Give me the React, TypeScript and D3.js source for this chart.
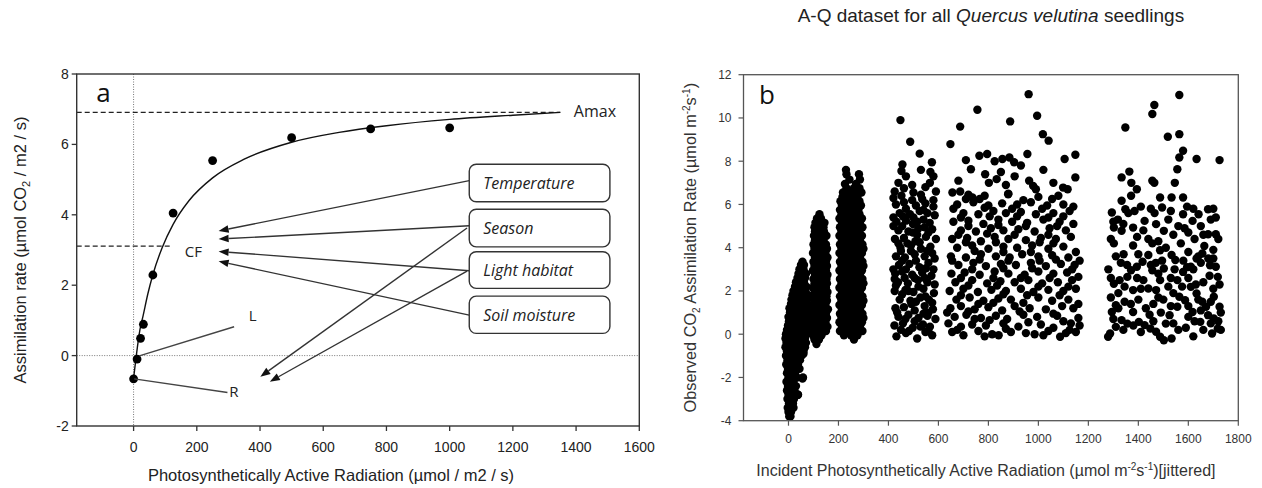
import React from 'react';
import * as d3 from 'd3';

// ---------- Panel a data ----------
const parA = [0, 11, 22, 31, 61, 125, 250, 500, 750, 1000];
const assimA = [-0.66, -0.1, 0.49, 0.89, 2.29, 4.05, 5.54, 6.19, 6.44, 6.47];
const fitPAR = [0, 10, 20, 30, 45, 60, 90, 125, 175, 250, 350, 500, 650, 800, 1000, 1200, 1350];
const fitA = [-0.65, 0.1, 0.73, 1.13, 1.75, 2.27, 3.06, 3.73, 4.4, 5.05, 5.58, 6.06, 6.34, 6.53, 6.71, 6.83, 6.91];
const xTicksA = [0, 200, 400, 600, 800, 1000, 1200, 1400, 1600];
const yTicksA = [-2, 0, 2, 4, 6, 8];
const AMAX = 6.91;
const AMAX_END = 1350;
const CF = 3.11;
const CF_END = 122;
const factors = ['Temperature', 'Season', 'Light habitat', 'Soil moisture'];

// annotation geometry (data units of panel a)
const boxPAR = [1062, 1507];
const boxA = [[5.435, 4.37], [4.156, 3.09], [2.95, 1.91], [1.69, 0.63]];
const lineStartA = [4.97, 3.69, 2.41, 1.15];
const tipPAR = 269;
const tipA = [3.54, 3.31, 2.96, 2.68];
const crossArrows = [
  [1055, 3.625, 401, -0.6],
  [1055, 2.4, 431, -0.74],
];

// ---------- Panel b data ----------
const xTicksB = [0, 200, 400, 600, 800, 1000, 1200, 1400, 1600, 1800];
const yTicksB = [-4, -2, 0, 2, 4, 6, 8, 10, 12];

// dense columns as rows: [assimilation, [PAR values]]
const colARows: [number, number[]][] = [
  [-3.8, [3, 8]], [-3.6, [0, 10]], [-3.4, [-3, 12, 20]], [-3.2, [2, 18]],
  [-3.0, [-4, 10, 22]], [-2.8, [0, 16, 38]], [-2.6, [-6, 8, 24]], [-2.4, [-2, 14, 30]],
  [-2.2, [-8, 6, 20]], [-2.0, [0, 16, 34, 58]], [-1.8, [-6, 10, 26]], [-1.6, [-2, 14, 30, 44]],
  [-1.4, [-9, 6, 22, 38]], [-1.2, [-4, 12, 28, 46]], [-1.0, [-10, 4, 20, 36, 52]],
  [-0.8, [-6, 10, 26, 42, 60]], [-0.6, [-12, 2, 18, 34, 50, 66]], [-0.4, [-8, 8, 24, 40, 56, 70]],
  [-0.2, [-12, 4, 20, 36, 52, 66]], [0.0, [-10, 6, 22, 38, 54, 72]], [0.2, [-6, 10, 26, 42, 58, 76]],
  [0.4, [-2, 14, 30, 46, 62, 78]], [0.6, [2, 18, 34, 50, 66, 82]], [0.8, [0, 16, 32, 48, 64, 84]],
  [1.0, [6, 22, 38, 54, 70, 84]], [1.2, [4, 20, 36, 52, 68, 82]], [1.4, [10, 26, 42, 58, 74]],
  [1.6, [12, 28, 44, 60, 76]], [1.8, [16, 32, 48, 64, 80]], [2.0, [20, 36, 52, 68]],
  [2.2, [26, 42, 58, 72]], [2.4, [30, 46, 62]], [2.6, [36, 52, 66]], [2.8, [40, 56, 70]],
  [3.0, [44, 60]], [3.2, [50, 62]], [3.35, [56]],
];
const colAExtra = [[56, -2.05], [38, -2.8], [60, -0.9]];

const colBRows: [number, number[]][] = [
  [-0.45, [112]], [-0.25, [104, 122]], [-0.05, [98, 114, 132]],
  [0.15, [100, 116, 134, 150]], [0.35, [106, 122, 140, 156]], [0.55, [98, 114, 130, 148]],
  [0.75, [104, 120, 138, 154]], [0.95, [100, 118, 134, 150]], [1.15, [106, 122, 140, 158]],
  [1.35, [98, 116, 132, 148]], [1.55, [104, 120, 136, 154]], [1.75, [100, 118, 134, 152]],
  [1.95, [106, 124, 140, 156]], [2.15, [98, 114, 132, 150]], [2.35, [104, 120, 138, 154]],
  [2.55, [100, 116, 134, 152]], [2.75, [106, 122, 140, 156]], [2.95, [98, 116, 132, 150]],
  [3.15, [104, 120, 138, 154]], [3.35, [100, 118, 134, 150]], [3.55, [106, 122, 140, 156]],
  [3.75, [98, 114, 132, 148]], [3.95, [104, 120, 136, 154]], [4.15, [100, 118, 134, 150]],
  [4.35, [106, 122, 140]], [4.55, [102, 118, 136, 152]], [4.75, [106, 124, 142]],
  [4.95, [104, 122, 140]], [5.15, [108, 126, 144]], [5.35, [114, 130]], [5.55, [124]],
];

const colCRows: [number, number[]][] = [
  [-0.25, [262]], [-0.05, [222, 250, 276]],
  [0.15, [206, 224, 242, 260, 278, 296]], [0.35, [214, 232, 250, 268, 286]],
  [0.55, [204, 222, 240, 258, 276, 294]], [0.75, [212, 230, 248, 266, 284, 300]],
  [0.95, [206, 224, 242, 260, 278, 296]], [1.15, [214, 232, 250, 268, 286]],
  [1.35, [204, 222, 240, 258, 276, 294]], [1.55, [212, 230, 248, 266, 284, 300]],
  [1.75, [206, 224, 242, 260, 278, 296]], [1.95, [214, 232, 250, 268, 286]],
  [2.15, [204, 222, 240, 258, 276, 294]], [2.35, [212, 230, 248, 266, 284, 300]],
  [2.55, [206, 224, 242, 260, 278, 296]], [2.75, [214, 232, 250, 268, 286]],
  [2.95, [204, 222, 240, 258, 276, 294]], [3.15, [212, 230, 248, 266, 284, 300]],
  [3.35, [206, 224, 242, 260, 278, 296]], [3.55, [214, 232, 250, 268, 286]],
  [3.75, [204, 222, 240, 258, 276, 294]], [3.95, [212, 230, 248, 266, 284, 300]],
  [4.15, [206, 224, 242, 260, 278, 296]], [4.35, [214, 232, 250, 268, 286]],
  [4.55, [204, 222, 240, 258, 276, 294]], [4.75, [212, 230, 248, 266, 284]],
  [4.95, [206, 224, 242, 260, 278, 296]], [5.15, [214, 232, 250, 268, 286]],
  [5.35, [204, 222, 240, 258, 276, 294]], [5.55, [212, 230, 248, 266, 284]],
  [5.75, [206, 224, 246, 262, 280]], [5.95, [214, 236, 254, 272, 290]],
  [6.15, [208, 226, 244, 266, 284]], [6.35, [216, 238, 258, 276]],
  [6.55, [218, 244, 272, 292]], [6.75, [232, 262, 284]], [6.95, [226, 270]],
  [7.15, [244, 286]], [7.4, [232, 282]], [7.6, [230]],
];

const colD = [
  [432, -0.1], [470, 0.05], [515, -0.2], [548, 0.1], [575, -0.05],
  [424, 0.4], [458, 0.5], [497, 0.3], [538, 0.45], [566, 0.35],
  [440, 0.8], [480, 0.9], [520, 0.75], [556, 0.85], [588, 0.7],
  [428, 1.2], [462, 1.25], [505, 1.1], [545, 1.3], [578, 1.15],
  [445, 1.6], [488, 1.55], [528, 1.7], [562, 1.6],
  [425, 2.0], [468, 2.05], [500, 1.95], [540, 2.1], [582, 1.9],
  [438, 2.4], [478, 2.35], [518, 2.5], [556, 2.4],
  [427, 2.8], [455, 2.9], [495, 2.75], [535, 2.85], [572, 2.7],
  [442, 3.2], [484, 3.25], [524, 3.1], [560, 3.3],
  [430, 3.6], [466, 3.55], [505, 3.7], [545, 3.6], [585, 3.5],
  [448, 4.0], [490, 4.1], [530, 3.95], [568, 4.05],
  [426, 4.4], [462, 4.45], [508, 4.3], [550, 4.5],
  [440, 4.8], [480, 4.75], [520, 4.9], [575, 4.85],
  [432, 5.2], [470, 5.25], [498, 5.1], [540, 5.3], [565, 5.15],
  [445, 5.6], [486, 5.55], [525, 5.7], [556, 5.6],
  [430, 6.0], [462, 6.1], [510, 5.95], [548, 6.05], [580, 6.2],
  [452, 6.4], [500, 6.55], [530, 6.45],
  [448, 9.9], [487, 8.9], [525, 8.35], [574, 7.95], [456, 7.85], [452, 7.55],
  [568, 7.5], [566, 7.0], [440, 7.0], [470, 7.3], [462, 6.75], [420, 6.3],
  [548, 6.8], [580, 7.3],
];
const colDMore = [
  [450, 0.2], [505, 0.6], [560, 0.15], [435, 1.0], [492, 1.4], [575, 1.45], [455, 1.85],
  [520, 2.2], [585, 2.3], [465, 2.6], [545, 2.6], [420, 3.0], [510, 3.4], [580, 3.0],
  [450, 3.85], [555, 3.85], [515, 4.6], [590, 4.4], [455, 5.0], [545, 4.95], [500, 5.4],
  [585, 5.5], [470, 5.8], [535, 6.25], [425, 6.6], [495, 6.9], [530, 7.6], [420, 5.4],
  [590, 6.6], [476, 4.2], [430, 2.25], [560, 1.0],
  [482, 0.15], [528, 0.35], [468, 0.7], [540, 0.95], [510, 1.5], [548, 1.75], [480, 2.0],
  [425, 2.55], [505, 2.6], [470, 3.0], [550, 3.05], [455, 3.4], [575, 3.75], [490, 3.85],
  [440, 4.2], [525, 4.25], [498, 4.7], [560, 4.7], [420, 5.0], [515, 5.2], [458, 5.45],
  [540, 5.75], [495, 6.2], [580, 5.9],
];

const colE = [
  [655, 0.1], [700, -0.05], [760, 0.15], [815, 0], [841, -0.05], [890, 0.1], [950, 0.05],
  [985, 0], [1040, 0.15], [1087, -0.12], [1110, 0.05], [1150, 0.1],
  [640, 0.5], [690, 0.35], [735, 0.45], [790, 0.4], [860, 0.5], [920, 0.35], [1010, 0.45], [1060, 0.3], [1130, 0.5],
  [665, 0.8], [712, 0.9], [770, 0.75], [830, 0.85], [875, 0.7], [940, 0.9], [995, 0.8], [1075, 0.85], [1160, 0.75],
  [648, 1.2], [690, 1.3], [745, 1.15], [800, 1.25], [855, 1.1], [905, 1.3], [965, 1.2], [1030, 1.15], [1095, 1.3], [1140, 1.2],
  [672, 1.6], [725, 1.7], [780, 1.55], [840, 1.65], [890, 1.6], [1000, 1.7], [1055, 1.55], [1120, 1.6],
  [645, 2.0], [700, 2.1], [758, 1.95], [812, 2.05], [870, 2.0], [930, 2.1], [980, 1.95], [1040, 2.05], [1100, 2.0], [1150, 2.1],
  [668, 2.4], [735, 2.5], [795, 2.35], [848, 2.45], [905, 2.4], [960, 2.5], [1015, 2.35], [1078, 2.4], [1135, 2.5],
  [652, 2.8], [705, 2.85], [765, 2.75], [825, 2.9], [880, 2.8], [945, 2.75], [1000, 2.9], [1060, 2.8], [1115, 2.85],
  [680, 3.2], [740, 3.3], [790, 3.15], [850, 3.25], [910, 3.2], [970, 3.3], [1030, 3.15], [1090, 3.25], [1145, 3.2],
  [650, 3.6], [710, 3.55], [770, 3.7], [830, 3.6], [885, 3.55], [935, 3.7], [1000, 3.6], [1055, 3.65], [1120, 3.55], [1165, 3.4],
  [675, 4.0], [735, 4.1], [800, 3.95], [860, 4.05], [915, 4.0], [975, 4.1], [1040, 3.95], [1100, 4.05],
  [655, 4.4], [715, 4.45], [770, 4.3], [825, 4.5], [880, 4.4], [950, 4.35], [1010, 4.45], [1070, 4.4], [1130, 4.5],
  [690, 4.8], [750, 4.75], [810, 4.9], [860, 4.8], [920, 4.85], [985, 4.75], [1045, 4.9], [1110, 4.8],
  [660, 5.2], [720, 5.25], [780, 5.1], [840, 5.3], [895, 5.2], [955, 5.15], [1020, 5.3], [1085, 5.2], [1140, 5.1],
  [700, 5.6], [760, 5.55], [820, 5.7], [870, 5.6], [930, 5.65], [990, 5.55], [1060, 5.6], [1125, 5.7],
  [675, 6.0], [740, 6.1], [800, 5.95], [855, 6.05], [915, 6.0], [970, 6.1], [1035, 5.95], [1100, 6.0],
  [720, 6.45], [785, 6.4], [880, 6.5], [1000, 6.35], [1080, 6.4],
  [648, 8.79], [687, 9.6], [756, 10.38], [961, 11.1], [995, 10.1], [1018, 9.25], [1041, 8.95], [887, 9.84],
  [764, 8.25], [795, 8.33], [825, 8.0], [856, 8.1], [884, 8.17], [903, 7.95], [710, 8.05], [730, 7.63],
  [956, 8.33], [1105, 8.1], [1148, 8.3], [1148, 7.25], [963, 7.1], [979, 6.86], [787, 7.4], [802, 7.0],
  [833, 7.17], [656, 6.55], [687, 6.6], [710, 6.25], [736, 6.32], [1099, 6.78], [1117, 6.7], [879, 6.47],
  [850, 7.5], [905, 7.3], [930, 7.8], [1020, 7.6], [1060, 7.0], [680, 7.1], [990, 6.7], [870, 6.9],
];
const colEMore = [
  [675, 0.2], [785, -0.1], [870, 0.25], [1020, -0.05], [1125, 0.2],
  [745, 0.7], [805, 0.65], [960, 0.55], [1100, 0.6], [1165, 0.4],
  [635, 1.0], [720, 1.05], [925, 1.05], [1060, 0.95],
  [760, 1.4], [820, 1.45], [940, 1.45], [1160, 1.4],
  [690, 1.8], [860, 1.85], [955, 1.8], [1085, 1.8],
  [720, 2.25], [835, 2.25], [1000, 2.2], [1120, 2.2],
  [690, 2.6], [820, 2.6], [930, 2.6], [1045, 2.6], [1160, 2.65],
  [735, 3.0], [860, 3.05], [975, 3.05], [1135, 3.0],
  [655, 3.4], [765, 3.45], [880, 3.4], [1005, 3.4], [1070, 3.45],
  [745, 3.85], [860, 3.8], [970, 3.8], [1150, 3.8],
  [710, 4.25], [830, 4.25], [1005, 4.25], [1060, 4.2],
  [680, 4.6], [795, 4.65], [905, 4.6], [1040, 4.6],
  [720, 5.0], [840, 5.05], [950, 5.0], [1075, 5.0],
  [690, 5.4], [805, 5.45], [915, 5.45], [1040, 5.4], [1100, 5.45],
  [660, 5.8], [785, 5.85], [895, 5.8], [1015, 5.8], [1140, 5.9],
  [765, 6.25], [940, 6.2], [1055, 6.25],
];

const colF = [
  [1348, 9.56], [1333, 7.25], [1364, 7.52], [1372, 7.0], [1456, 10.18], [1464, 10.6], [1564, 11.06],
  [1518, 9.13], [1564, 9.25], [1579, 8.48], [1564, 8.17], [1556, 7.63], [1546, 7.0], [1633, 8.1],
  [1725, 8.05], [1464, 7.0], [1456, 7.1], [1394, 6.7], [1371, 6.4], [1333, 6.17], [1348, 5.78],
  [1487, 6.32], [1533, 6.32], [1495, 5.86], [1579, 6.32], [1679, 5.78], [1710, 5.4], [1294, 5.63],
  [1302, 4.93], [1333, 4.78], [1379, 4.93], [1425, 5.24], [1471, 5.09], [1502, 4.78], [1579, 5.55],
  [1617, 5.24], [1641, 5.55], [1710, 4.62], [1679, 4.62], [1664, 4.08],
  [1290, 4.4], [1318, 5.3], [1360, 5.6], [1395, 4.5], [1410, 5.9], [1440, 4.4], [1450, 5.8], [1520, 5.3],
  [1540, 4.6], [1560, 5.0], [1595, 5.9], [1600, 4.7], [1625, 4.4], [1650, 5.0], [1690, 5.3], [1700, 3.9],
  [1720, 4.4], [1480, 4.3], [1510, 4.0], [1600, 3.8], [1640, 3.6], [1570, 4.2],
  [1287, 0.03], [1279, -0.12], [1310, 0.34], [1294, 1.03], [1310, 1.34], [1333, 0.65], [1356, 0.49],
  [1379, 1.03], [1402, 0.57], [1302, 2.33], [1325, 2.5], [1356, 2.65], [1379, 2.04], [1371, 2.96],
  [1394, 3.12], [1417, 3.35], [1440, 3.66], [1456, 2.96], [1440, 2.11], [1471, 2.04], [1487, 2.5],
  [1502, 3.04], [1533, 3.66], [1425, 0.42], [1448, 0.26], [1471, 0.11], [1487, -0.12], [1502, -0.28],
  [1533, -0.2], [1510, 0.49], [1525, 0.88], [1556, 1.27], [1564, 1.73], [1587, 1.57], [1610, 2.19],
  [1633, 1.88], [1656, 1.5], [1671, 1.27], [1679, 0.88], [1702, 0.73], [1718, 0.26], [1695, 0.03],
  [1648, 0.57], [1617, 1.03], [1579, 2.88], [1610, 3.12], [1633, 3.5], [1656, 3.73], [1687, 3.19],
  [1710, 3.12], [1718, 2.65], [1702, 1.73], [1725, 1.27], [1548, 3.43], [1556, 2.5], [1487, 3.88],
  [1456, 4.2], [1341, 3.7], [1379, 4.1], [1302, 4.2],
  [1290, 1.7], [1320, 1.9], [1345, 1.5], [1400, 1.6], [1420, 2.5], [1460, 1.4], [1490, 1.0], [1470, 3.3],
  [1520, 2.2], [1540, 1.9], [1590, 0.3], [1600, 2.6], [1625, 0.6], [1660, 2.4], [1680, 3.5], [1700, 2.1],
  [1720, 0.6], [1650, 1.1], [1330, 3.3], [1280, 3.0], [1580, 3.4], [1540, 0.5], [1410, 0.1], [1660, 0.2],
  [1730, 1.0], [1300, 0.7], [1395, 2.6], [1445, 0.9], [1500, 1.6], [1620, 3.0],
];
const colFMore = [
  [1300, 5.2], [1340, 5.1], [1385, 5.7], [1420, 4.8], [1465, 5.6], [1530, 5.7], [1585, 4.9],
  [1620, 5.8], [1660, 4.6], [1700, 5.8], [1310, 3.6], [1355, 3.2], [1400, 3.7], [1450, 3.2],
  [1495, 3.4], [1545, 3.0], [1595, 3.1], [1650, 3.3], [1700, 3.5], [1290, 2.6], [1345, 2.2],
  [1410, 2.1], [1480, 2.8], [1530, 2.6], [1575, 2.2], [1630, 2.3], [1685, 2.7], [1725, 2.3],
  [1320, 1.2], [1370, 1.4], [1430, 1.2], [1480, 1.7], [1530, 1.3], [1600, 1.3], [1640, 1.6],
  [1690, 1.5], [1340, 0.2], [1380, 0.4], [1460, 0.6], [1560, 0.2], [1600, 0.8], [1690, 0.5],
  [1730, 0.2], [1620, -0.1],
];

const rowsToPoints = (rows: [number, number[]][]) =>
  rows.flatMap(([a, pars]) => pars.map((p) => [p, a]));

const scatterB = [
  ...rowsToPoints(colARows), ...colAExtra,
  ...rowsToPoints(colBRows),
  ...rowsToPoints(colCRows),
  ...colD, ...colDMore, ...colE, ...colEMore, ...colF, ...colFMore,
];

// ---------- layout ----------
const W = 1262, H = 488;
const AX = { l: 76.7, r: 639.3, t: 74, b: 426 };
const BX = { l: 743.5, r: 1238.3, t: 74.7, b: 420.7 };
const AXIS_FONT = "'Liberation Sans', Arial, sans-serif";
const ANN_FONT = "'Open Sans', 'Noto Sans', sans-serif";

function Arrow({ x1, y1, x2, y2 }: { x1: number; y1: number; x2: number; y2: number }) {
  const ang = Math.atan2(y2 - y1, x2 - x1);
  const L = 10, w = 3.8;
  const c = Math.cos(ang), s = Math.sin(ang);
  const bx = x2 - L * c, by = y2 - L * s;
  const p1 = [bx + w * s, by - w * c];
  const p2 = [bx - w * s, by + w * c];
  return (
    <g>
      <line x1={x1} y1={y1} x2={bx} y2={by} stroke="#333" strokeWidth={1.4} />
      <polygon points={`${x2},${y2} ${p1[0]},${p1[1]} ${p2[0]},${p2[1]}`} fill="#111" />
    </g>
  );
}

export default function App() {
  const xA = d3.scaleLinear().domain([-180, 1600]).range([AX.l, AX.r]);
  const yA = d3.scaleLinear().domain([-2, 8]).range([AX.b, AX.t]);
  const xB = d3.scaleLinear().domain([-180, 1800]).range([BX.l, BX.r]);
  const yB = d3.scaleLinear().domain([-4, 12]).range([BX.b, BX.t]);

  const fitLine = d3
    .line<number>()
    .x((_, i) => xA(fitPAR[i]))
    .y((d) => yA(d))
    .curve(d3.curveMonotoneX)(fitA) as string;

  return (
    <svg
      width={W}
      height={H}
      style={{ position: 'absolute', left: 0, top: 0, background: '#fff' }}
      xmlns="http://www.w3.org/2000/svg"
    >
      <rect x={0} y={0} width={W} height={H} fill="#fff" />

      {/* ================= Panel a ================= */}
      <g>
        <line x1={xA(0)} x2={xA(0)} y1={AX.t} y2={AX.b} stroke="#777" strokeWidth={1} strokeDasharray="1,1.5" />
        <line x1={AX.l} x2={AX.r} y1={yA(0)} y2={yA(0)} stroke="#777" strokeWidth={1} strokeDasharray="1,1.5" />
        <line x1={AX.l} x2={xA(AMAX_END)} y1={yA(AMAX)} y2={yA(AMAX)} stroke="#222" strokeWidth={1.3} strokeDasharray="5,3" />
        <line x1={AX.l} x2={xA(CF_END)} y1={yA(CF)} y2={yA(CF)} stroke="#222" strokeWidth={1.3} strokeDasharray="5,3" />

        <path d={fitLine} fill="none" stroke="#111" strokeWidth={1.4} />

        {parA.map((p, i) => (
          <circle key={i} cx={xA(p)} cy={yA(assimA[i])} r={4.4} fill="#000" />
        ))}

        <line x1={xA(18)} y1={yA(-0.01)} x2={xA(318)} y2={yA(0.82)} stroke="#444" strokeWidth={1.4} />
        <line x1={xA(2)} y1={yA(-0.66)} x2={xA(297)} y2={yA(-1.05)} stroke="#444" strokeWidth={1.4} />
        <text x={xA(377)} y={yA(1.15) + 5.5} fontFamily={ANN_FONT} fontSize={15} textAnchor="middle" fill="#222">L</text>
        <text x={xA(317)} y={yA(-1.03) + 5.5} fontFamily={ANN_FONT} fontSize={15} textAnchor="middle" fill="#222">R</text>
        <text x={xA(189)} y={yA(2.96) + 5.5} fontFamily={ANN_FONT} fontSize={15} textAnchor="middle" fill="#222">CF</text>
        <text x={xA(1393)} y={yA(6.95) + 5.8} fontFamily={ANN_FONT} fontSize={16} fill="#222">Amax</text>

        {factors.map((f, i) => (
          <Arrow key={f} x1={xA(boxPAR[0])} y1={yA(lineStartA[i])} x2={xA(tipPAR)} y2={yA(tipA[i])} />
        ))}
        {crossArrows.map((c, i) => (
          <Arrow key={i} x1={xA(c[0])} y1={yA(c[1])} x2={xA(c[2])} y2={yA(c[3])} />
        ))}

        {factors.map((f, i) => {
          const y0 = yA(boxA[i][0]);
          const y1 = yA(boxA[i][1]);
          return (
            <g key={f}>
              <rect
                x={xA(boxPAR[0])}
                y={y0}
                width={xA(boxPAR[1]) - xA(boxPAR[0])}
                height={y1 - y0}
                rx={7}
                ry={7}
                fill="#fff"
                stroke="#333"
                strokeWidth={1.4}
              />
              <text
                x={xA(boxPAR[0]) + 14}
                y={(y0 + y1) / 2 + 6}
                fontFamily={ANN_FONT}
                fontStyle="italic"
                fontSize={16}
                fill="#222"
              >
                {f}
              </text>
            </g>
          );
        })}

        <rect x={AX.l} y={AX.t} width={AX.r - AX.l} height={AX.b - AX.t} fill="none" stroke="#333" strokeWidth={1.4} />

        {xTicksA.map((t) => (
          <g key={t}>
            <line x1={xA(t)} x2={xA(t)} y1={AX.b} y2={AX.b + 5} stroke="#333" strokeWidth={1.3} />
            <text x={xA(t)} y={AX.b + 26} fontFamily={AXIS_FONT} fontSize={14} textAnchor="middle" fill="#222">{t}</text>
          </g>
        ))}
        {yTicksA.map((t) => (
          <g key={t}>
            <line x1={AX.l - 5} x2={AX.l} y1={yA(t)} y2={yA(t)} stroke="#333" strokeWidth={1.3} />
            <text x={AX.l - 8} y={yA(t) + 5} fontFamily={AXIS_FONT} fontSize={14} textAnchor="end" fill="#222">{t}</text>
          </g>
        ))}

        <text x={xA(-118)} y={AX.t + 28} fontFamily={ANN_FONT} fontSize={26} fill="#111">a</text>

        <text x={331} y={481} fontFamily={AXIS_FONT} fontSize={16.5} textAnchor="middle" fill="#222">
          Photosynthetically Active Radiation (µmol / m2 / s)
        </text>
        <text
          transform={`translate(26, ${(AX.t + AX.b) / 2}) rotate(-90)`}
          fontFamily={AXIS_FONT}
          fontSize={16.5}
          textAnchor="middle"
          fill="#222"
        >
          Assimilation rate (µmol CO<tspan fontSize={11} dy={4}>2</tspan>
          <tspan dy={-4}> / m2 / s)</tspan>
        </text>
      </g>

      {/* ================= Panel b ================= */}
      <g>
        <text x={(BX.l + BX.r) / 2} y={22} fontFamily={AXIS_FONT} fontSize={19} textAnchor="middle" fill="#222">
          A-Q dataset for all <tspan fontStyle="italic">Quercus velutina</tspan> seedlings
        </text>

        {scatterB.map((d, i) => (
          <circle key={i} cx={xB(d[0])} cy={yB(d[1])} r={4.2} fill="#000" />
        ))}

        <rect x={BX.l} y={BX.t} width={BX.r - BX.l} height={BX.b - BX.t} fill="none" stroke="#555" strokeWidth={1.3} />

        {xTicksB.map((t) => (
          <g key={t}>
            <line x1={xB(t)} x2={xB(t)} y1={BX.b} y2={BX.b + 5} stroke="#555" strokeWidth={1.2} />
            <text x={xB(t)} y={BX.b + 22.5} fontFamily={AXIS_FONT} fontSize={12} textAnchor="middle" fill="#333">{t}</text>
          </g>
        ))}
        {yTicksB.map((t) => (
          <g key={t}>
            <line x1={BX.l - 5} x2={BX.l} y1={yB(t)} y2={yB(t)} stroke="#555" strokeWidth={1.2} />
            <text x={BX.l - 12} y={yB(t) + 4.3} fontFamily={AXIS_FONT} fontSize={12} textAnchor="end" fill="#333">{t}</text>
          </g>
        ))}

        <text x={759} y={104} fontFamily={ANN_FONT} fontSize={26} fill="#111">b</text>

        <text x={(BX.l + BX.r) / 2 - 5} y={476} fontFamily={AXIS_FONT} fontSize={16} textAnchor="middle" fill="#333">
          Incident Photosynthetically Active Radiation (µmol m
          <tspan fontSize={10} dy={-6}>-2</tspan>
          <tspan dy={6}>s</tspan>
          <tspan fontSize={10} dy={-6}>-1</tspan>
          <tspan dy={6}>)[jittered]</tspan>
        </text>
        <text
          transform={`translate(696, ${(BX.t + BX.b) / 2}) rotate(-90)`}
          fontFamily={AXIS_FONT}
          fontSize={16.3}
          textAnchor="middle"
          fill="#333"
        >
          Observed CO<tspan fontSize={10} dy={4}>2</tspan>
          <tspan dy={-4}> Assimilation Rate (µmol m</tspan>
          <tspan fontSize={10} dy={-6}>-2</tspan>
          <tspan dy={6}>s</tspan>
          <tspan fontSize={10} dy={-6}>-1</tspan>
          <tspan dy={6}>)</tspan>
        </text>
      </g>
    </svg>
  );
}
